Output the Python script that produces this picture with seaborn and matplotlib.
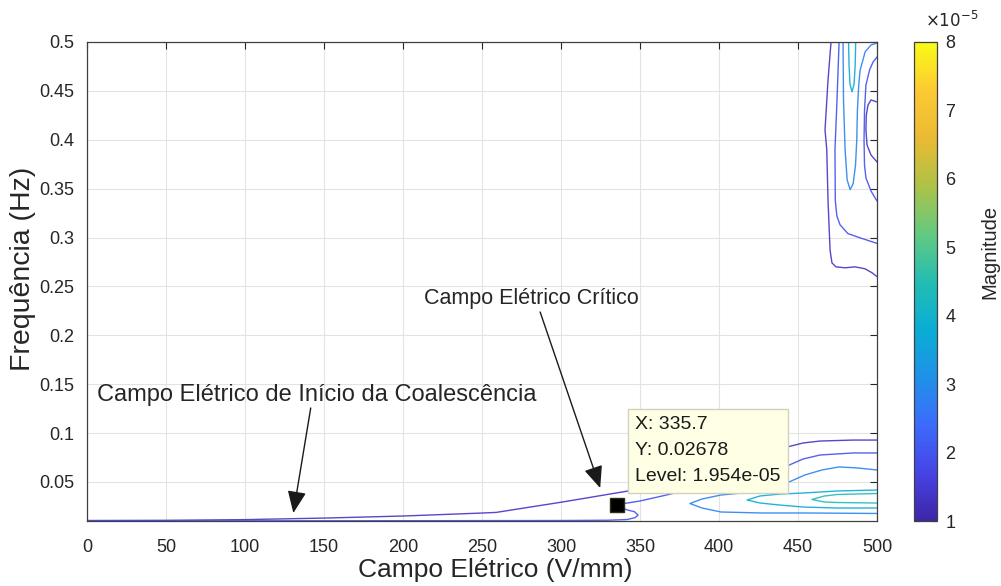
import matplotlib
matplotlib.use("Agg")
import numpy as np
import pandas as pd
import matplotlib.pyplot as plt
import seaborn as sns
from matplotlib.colors import LinearSegmentedColormap, Normalize
from matplotlib.cm import ScalarMappable

# ---------------- data ----------------
# contour levels (Magnitude)
LEVEL_1 = 1.35e-5
LEVEL_2 = 1.954e-5
LEVEL_3 = 2.85e-5
LEVEL_4 = 3.70e-5
LEVEL_5 = 4.40e-5

# upper-right group
outer_top_x = [470.9, 469.0, 467.1, 468.2, 469.0, 470.3, 471.5, 474.0, 479.8, 486.1, 492.4, 496.8, 500.0]
outer_top_y = [0.500, 0.461, 0.410, 0.390, 0.338, 0.287, 0.274, 0.270, 0.269, 0.270, 0.268, 0.264, 0.260]

second_top_x = [476.0, 474.7, 473.4, 473.6, 474.6, 476.6, 481.6, 490.5, 500.0]
second_top_y = [0.500, 0.441, 0.390, 0.338, 0.322, 0.313, 0.304, 0.299, 0.294]

blue_u_x = [478.5, 478.8, 479.8, 481.1, 483.0, 484.9, 486.4, 487.2, 487.6, 488.4, 489.3, 492.5, 496.3, 500.0]
blue_u_y = [0.500, 0.441, 0.390, 0.359, 0.349, 0.355, 0.374, 0.400, 0.430, 0.455, 0.471, 0.490, 0.497, 0.499]

cyan_u_x = [482.0, 482.3, 482.9, 484.2, 485.5, 486.2, 486.5]
cyan_u_y = [0.500, 0.4765, 0.457, 0.449, 0.457, 0.4765, 0.500]

blue_c_x = [500.0, 497.5, 495.3, 493.0, 492.1, 491.8, 492.1, 493.0, 496.2, 500.0]
blue_c_y = [0.4847, 0.4795, 0.4714, 0.456, 0.430, 0.3997, 0.374, 0.361, 0.3476, 0.3373]

inner_c_x = [500.0, 496.2, 494.3, 493.2, 493.0, 493.7, 496.2, 500.0]
inner_c_y = [0.4387, 0.4407, 0.4355, 0.425, 0.410, 0.3946, 0.3844, 0.3773]

# lower group
low_outer_x = [0.0, 49.7, 99.6, 150.2, 200.2, 250.8, 259.0, 300.8, 342.5, 395.0, 443.1, 453.2, 463.9, 484.8, 500.0]
low_outer_y = [0.0105, 0.0107, 0.0114, 0.0130, 0.0151, 0.0182, 0.0188, 0.0294, 0.0407, 0.0640, 0.0857, 0.0898, 0.0918, 0.0928, 0.0928]

low_tip_x = [0.0, 100.0, 200.0, 300.0, 330.0, 341.9, 347.0, 348.8, 346.5, 341.9, 338.0, 335.7, 349.8, 366.8, 405.0, 443.1, 453.2, 463.9, 484.8, 500.0]
low_tip_y = [0.0102, 0.0102, 0.0103, 0.0105, 0.0108, 0.0115, 0.0135, 0.0161, 0.0195, 0.0213, 0.0240, 0.02678, 0.0304, 0.0366, 0.0515, 0.0663, 0.0734, 0.0775, 0.0796, 0.0796]

blue_loop_x = [500.0, 487.3, 475.9, 465.2, 454.4, 444.3, 435.4, 420.9, 401.3, 389.2, 381.6, 389.2, 401.3, 427.2, 454.4, 500.0]
blue_loop_y = [0.0622, 0.0643, 0.0653, 0.0622, 0.0571, 0.0499, 0.0437, 0.0396, 0.0366, 0.0325, 0.0279, 0.0233, 0.0192, 0.0182, 0.0182, 0.0177]

cyan_loop_x = [500.0, 474.7, 453.2, 438.6, 426.0, 417.8, 426.0, 438.6, 453.2, 474.7, 500.0]
cyan_loop_y = [0.0417, 0.0407, 0.0386, 0.0376, 0.0356, 0.0315, 0.0284, 0.0263, 0.0243, 0.0233, 0.0233]

teal_loop_x = [500.0, 474.7, 466.5, 458.8, 466.5, 474.7, 500.0]
teal_loop_y = [0.0381, 0.0371, 0.0355, 0.0320, 0.0295, 0.0289, 0.0284]

# data tip
tip_x = [335.7]
tip_y = [0.02678]
tip_level = 1.954e-05

XTICKS = [0, 50, 100, 150, 200, 250, 300, 350, 400, 450, 500]
YTICKS = [0.05, 0.1, 0.15, 0.2, 0.25, 0.3, 0.35, 0.4, 0.45, 0.5]
YTICK_LABELS = ["0.05", "0.1", "0.15", "0.2", "0.25", "0.3", "0.35", "0.4", "0.45", "0.5"]
CBAR_TICKS = [1, 2, 3, 4, 5, 6, 7, 8]

segments = [
    ("outer_top", LEVEL_1, outer_top_x, outer_top_y),
    ("second_top", LEVEL_2, second_top_x, second_top_y),
    ("blue_u", LEVEL_3, blue_u_x, blue_u_y),
    ("cyan_u", LEVEL_4, cyan_u_x, cyan_u_y),
    ("blue_c", LEVEL_2, blue_c_x, blue_c_y),
    ("inner_c", LEVEL_1, inner_c_x, inner_c_y),
    ("low_outer", LEVEL_1, low_outer_x, low_outer_y),
    ("low_tip", LEVEL_2, low_tip_x, low_tip_y),
    ("blue_loop", LEVEL_3, blue_loop_x, blue_loop_y),
    ("cyan_loop", LEVEL_4, cyan_loop_x, cyan_loop_y),
    ("teal_loop", LEVEL_5, teal_loop_x, teal_loop_y),
]

rows = []
for name, lev, xs, ys in segments:
    for i, (xv, yv) in enumerate(zip(xs, ys)):
        rows.append({"seg": name, "level": lev, "order": i, "x": xv, "y": yv})
df = pd.DataFrame(rows)

# ---------------- style ----------------
sns.set_style("white")
plt.rcParams["font.family"] = ["Liberation Sans", "DejaVu Sans"]
TXT = "#262626"

parula = LinearSegmentedColormap.from_list("parula_like", [
    (0.00, (0.242, 0.150, 0.660)),
    (0.10, (0.279, 0.263, 0.903)),
    (0.20, (0.235, 0.420, 0.985)),
    (0.30, (0.120, 0.570, 0.910)),
    (0.40, (0.040, 0.680, 0.830)),
    (0.50, (0.140, 0.740, 0.700)),
    (0.60, (0.390, 0.790, 0.500)),
    (0.70, (0.680, 0.760, 0.280)),
    (0.80, (0.920, 0.730, 0.200)),
    (0.90, (0.990, 0.790, 0.200)),
    (1.00, (0.977, 0.984, 0.081)),
])
norm = Normalize(vmin=1e-5, vmax=8e-5)

fig = plt.figure(figsize=(10.01, 5.86), dpi=100)
ax = fig.add_axes([87 / 1001, 65 / 586, 790 / 1001, 479 / 586])
cax = fig.add_axes([914 / 1001, 65 / 586, 23 / 1001, 479 / 586])

ax.grid(True, color="#e3e3e3", linewidth=0.8, zorder=0)
ax.set_axisbelow(True)

sns.lineplot(data=df, x="x", y="y", hue="level", units="seg", estimator=None,
             sort=False, palette=parula, hue_norm=(1e-5, 8e-5), linewidth=1.0,
             alpha=0.9, legend=False, ax=ax, zorder=2)

ax.set_xlim(0, 500)
ax.set_ylim(0.01, 0.5)
ax.set_xticks(XTICKS)
ax.set_xticklabels([str(t) for t in XTICKS])
ax.set_yticks(YTICKS)
ax.set_yticklabels(YTICK_LABELS)
ax.tick_params(direction="in", length=5, width=0.8, top=True, right=True,
               labelsize=13, colors=TXT)
ax.tick_params(axis="x", pad=13)
ax.tick_params(axis="y", pad=9)
for sp in ax.spines.values():
    sp.set_visible(True)
    sp.set_color("#404040")
    sp.set_linewidth(0.9)
ax.set_xlabel("Campo Elétrico (V/mm)", fontsize=19, color=TXT)
ax.xaxis.set_label_coords((495 - 87) / 790, (521 - 558) / 479)
ax.set_ylabel("Frequência (Hz)", fontsize=20.5, color=TXT)
ax.yaxis.set_label_coords((36 - 87) / 790, (521 - 269) / 479)

# data tip marker and box
ax.plot(tip_x, tip_y, marker="s", markersize=10, color="black",
        markeredgecolor="#303010", linestyle="none", zorder=5)
ax.annotate(f"X: {tip_x[0]}\nY: {tip_y[0]}\nLevel: {tip_level:.3e}",
            xy=(tip_x[0], tip_y[0]), xytext=(13, 14), textcoords="offset points",
            ha="left", va="bottom", fontsize=14, color="#1a1a1a", linespacing=1.68,
            bbox=dict(boxstyle="square,pad=0.38", facecolor="#ffffe6",
                      edgecolor="#d2d2bc", linewidth=1.0), zorder=6)

# annotations
arrow_kw = dict(arrowstyle="-|>,head_length=0.75,head_width=0.32", color="#1a1a1a",
                lw=1.0, mutation_scale=18, shrinkA=0, shrinkB=0)
ax.text(281.0, 0.238, "Campo Elétrico Crítico", fontsize=15.5, color=TXT,
        ha="center", va="center")
ax.annotate("", xy=(324.8, 0.0437), xytext=(286.8, 0.2238), arrowprops=arrow_kw)
ax.text(145.2, 0.1389, "Campo Elétrico de Início da Coalescência", fontsize=17,
        color=TXT, ha="center", va="center")
ax.annotate("", xy=(130.6, 0.0182), xytext=(141.6, 0.1256), arrowprops=arrow_kw)

# colorbar
sm = ScalarMappable(norm=norm, cmap=parula)
cb = fig.colorbar(sm, cax=cax)
cb.outline.set_edgecolor("#404040")
cb.outline.set_linewidth(0.9)
cax.set_yticks([t * 1e-5 for t in CBAR_TICKS])
cax.set_yticklabels([str(t) for t in CBAR_TICKS])
cax.tick_params(direction="in", length=4, width=0.8, labelsize=13, colors=TXT,
                left=True, right=True, pad=6)
fig.text(990 / 1001, 1 - 252 / 586, "Magnitude", rotation=90, fontsize=14.5,
         color=TXT, ha="center", va="center")
fig.text(925 / 1001, 1 - 20 / 586, r"$\times10^{-5}$", fontsize=12, color=TXT,
         ha="left", va="center")

fig.savefig("out.png", dpi=100)
